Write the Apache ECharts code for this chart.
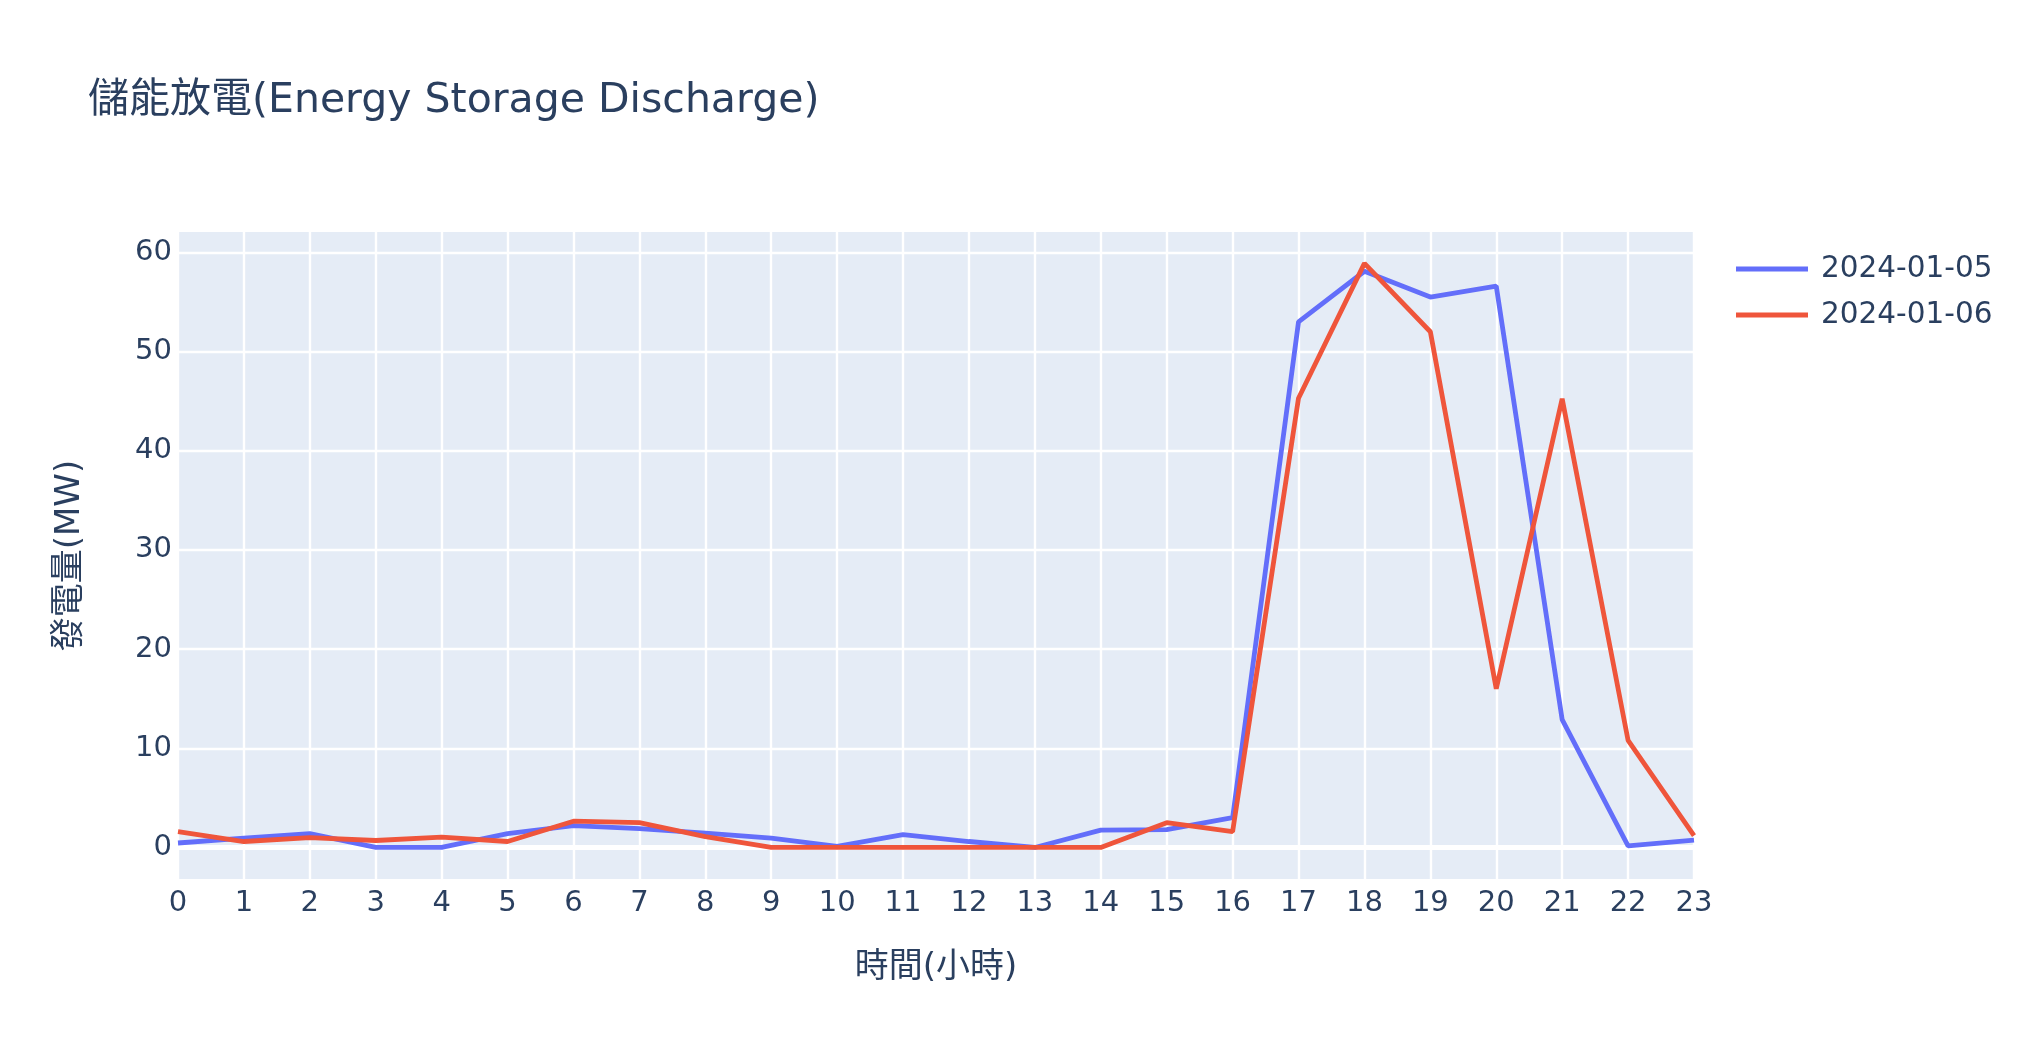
<!DOCTYPE html>
<html>
<head>
<meta charset="utf-8">
<script src="https://cdn.jsdelivr.net/npm/echarts@6/dist/echarts.min.js"></script>
<style>
html,body{margin:0;padding:0;background:#fff;}
#chart{width:2024px;height:1064px;}
</style>
</head>
<body>
<div id="chart"></div>
<script>
const hours = ['0','1','2','3','4','5','6','7','8','9','10','11','12','13','14','15','16','17','18','19','20','21','22','23'];
const seriesNames = ['2024-01-05', '2024-01-06'];
const d20240105 = [0.45, 0.95, 1.4, 0, 0, 1.4, 2.2, 1.9, 1.45, 0.95, 0.1, 1.3, 0.6, 0, 1.75, 1.8, 3.0, 53.0, 58.1, 55.5, 56.6, 12.9, 0.17, 0.75];
const d20240106 = [1.6, 0.6, 1.0, 0.7, 1.05, 0.6, 2.65, 2.5, 1.1, 0, 0, 0, 0, 0, 0, 2.5, 1.6, 45.3, 58.9, 52.0, 16.0, 45.25, 10.8, 1.2];
const yTicks = [0, 10, 20, 30, 40, 50, 60];
const yMin = -3.18, yMax = 62.06;

const FONT = '"DejaVu Sans", "Noto Sans CJK TC", sans-serif';
const TXT = '#2a3f5f';

const chart = echarts.init(document.getElementById('chart'), null, {renderer: 'canvas'});
chart.setOption({
  backgroundColor: '#ffffff',
  animation: false,
  textStyle: {fontFamily: FONT, color: TXT},
  title: {
    text: '儲能放電(Energy Storage Discharge)',
    left: 88, top: 77, padding: 0,
    textStyle: {fontFamily: FONT, fontSize: 41, fontWeight: 'normal', color: TXT, lineHeight: 48}
  },
  legend: {
    orient: 'vertical', left: 1736, top: 251, padding: 0,
    itemWidth: 72, itemHeight: 5, itemGap: 10, icon: 'rect',
    data: seriesNames,
    textStyle: {fontFamily: FONT, fontSize: 29.5, color: TXT, lineHeight: 36, padding: [0,0,0,8]}
  },
  grid: {left: 178, right: 330, top: 232, bottom: 185, show: true, backgroundColor: '#E5ECF6', borderWidth: 0},
  xAxis: {
    type: 'category', data: hours, boundaryGap: false,
    name: '時間(小時)', nameLocation: 'middle', nameGap: 72,
    nameTextStyle: {fontFamily: FONT, fontSize: 34, color: TXT},
    axisLine: {show: false}, axisTick: {show: false},
    axisLabel: {interval: 0, margin: 10, fontFamily: FONT, fontSize: 29, color: TXT},
    splitLine: {show: true, interval: 0, lineStyle: {color: '#ffffff', width: 2.4}}
  },
  yAxis: {
    type: 'value', min: yMin, max: yMax,
    name: '發電量(MW)', nameLocation: 'middle', nameGap: 91,
    nameTextStyle: {fontFamily: FONT, fontSize: 34, color: TXT},
    axisLine: {show: false},
    axisTick: {show: false, customValues: yTicks},
    axisLabel: {customValues: yTicks, margin: 6, padding: [5, 0, 0, 0], fontFamily: FONT, fontSize: 29, color: TXT},
    splitLine: {show: true, lineStyle: {color: '#ffffff', width: 2.4}}
  },
  series: [
    {
      name: '__zero', type: 'line', data: [], z: 1, silent: true,
      markLine: {silent: true, z: 1, symbol: 'none', label: {show: false},
        lineStyle: {color: '#ffffff', width: 4.8, type: 'solid'}, data: [{yAxis: 0}]}
    },
    {
      name: seriesNames[0], type: 'line', data: d20240105, z: 3,
      showSymbol: false, symbol: 'none', color: '#636efa',
      lineStyle: {width: 4.8, color: '#636efa'}
    },
    {
      name: seriesNames[1], type: 'line', data: d20240106, z: 4,
      showSymbol: false, symbol: 'none', color: '#EF553B',
      lineStyle: {width: 4.8, color: '#EF553B'}
    }
  ]
});
</script>
</body>
</html>
